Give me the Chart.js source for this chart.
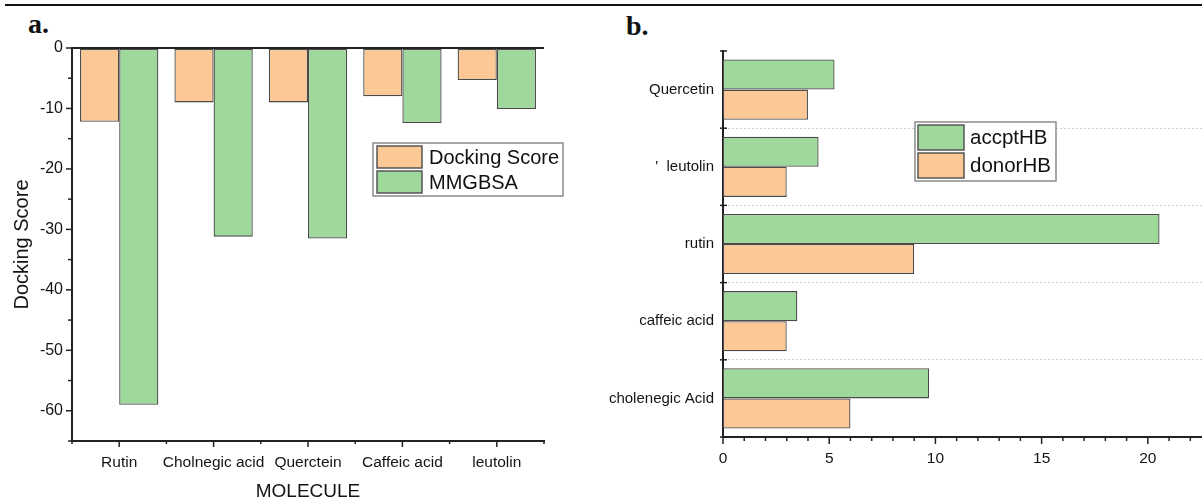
<!DOCTYPE html>
<html>
<head>
<meta charset="utf-8">
<title>Docking score and hydrogen bonds</title>
<script src="https://cdn.jsdelivr.net/npm/chart.js@4.4.1/dist/chart.umd.min.js"></script>
<style>
  html, body { margin: 0; padding: 0; background: #fff; }
  #page { position: relative; width: 1202px; height: 499px; overflow: hidden; background: #fff; }
  .rule { position: absolute; left: 5px; right: 0; top: 4px; height: 2px; background: #111; }
  .panel { position: absolute; font-family: "Liberation Serif", "Times New Roman", serif; font-weight: bold;
           font-size: 28px; line-height: 28px; color: #111; }
  #wrapA { position: absolute; left: 0; top: 0; width: 600px; height: 499px; }
  #wrapB { position: absolute; left: 600px; top: 0; width: 602px; height: 499px; }
  canvas { display: block; }
</style>
</head>
<body>
<div id="page">
  <div class="rule"></div>
  <div class="panel" style="left:28px; top:10px;">a.</div>
  <div class="panel" style="left:626px; top:12px;">b.</div>
  <div id="wrapA"><canvas id="chartA" width="600" height="499"></canvas></div>
  <div id="wrapB"><canvas id="chartB" width="602" height="499"></canvas></div>
</div>
<script>
// Panel a: docking score and MMGBSA per molecule
const moleculesA = ['Rutin', 'Cholnegic acid', 'Querctein', 'Caffeic acid', 'leutolin'];
const dockingScore = [-12.2, -9.0, -9.0, -8.0, -5.3];
const mmgbsa = [-59.0, -31.2, -31.5, -12.4, -10.1];
const scoreTicks = [0, -10, -20, -30, -40, -50, -60];

// Panel b: acceptor / donor hydrogen bonds per molecule
const moleculesB = ['Quercetin', "'  leutolin", 'rutin', 'caffeic acid', 'cholenegic Acid'];
const accptHB = [5.25, 4.5, 20.55, 3.5, 9.7];
const donorHB = [4, 3, 9, 3, 6];
const hbTicks = [0, 5, 10, 15, 20];

const ORANGE = 'rgb(252, 201, 150)';
const GREEN = 'rgb(158, 216, 155)';
const EDGE = '#4a4a4a';
const AXIS = '#222';
const TEXT = '#141414';
const CLEAR = 'rgba(0,0,0,0)';

Chart.defaults.font.family = '"Liberation Sans", Arial, sans-serif';
Chart.defaults.color = TEXT;

// Framed legend drawn inside the plot area
function boxLegend(id, box) {
  return {
    id,
    afterDatasetsDraw(chart) {
      const ctx = chart.ctx;
      ctx.save();
      ctx.fillStyle = '#fff';
      ctx.fillRect(box.x, box.y, box.w, box.h);
      ctx.strokeStyle = '#8a8a8a';
      ctx.lineWidth = 1.5;
      ctx.strokeRect(box.x, box.y, box.w, box.h);
      chart.data.datasets.forEach((ds, i) => {
        const sx = box.x + box.padX;
        const sy = box.y + box.padY + i * box.row;
        ctx.fillStyle = ds.backgroundColor;
        ctx.fillRect(sx, sy, box.sw, box.sh);
        ctx.strokeStyle = '#555';
        ctx.lineWidth = 1.5;
        ctx.strokeRect(sx, sy, box.sw, box.sh);
        ctx.fillStyle = '#111';
        ctx.font = box.font;
        ctx.textBaseline = 'middle';
        ctx.textAlign = 'left';
        ctx.fillText(ds.label, sx + box.sw + box.gap, sy + box.sh / 2 + 1);
      });
      ctx.restore();
    }
  };
}

function segment(ctx, x1, y1, x2, y2) {
  ctx.beginPath();
  ctx.moveTo(x1, y1);
  ctx.lineTo(x2, y2);
  ctx.stroke();
}

// Major / minor tick marks for panel a
const marksA = {
  id: 'marksA',
  afterDraw(chart) {
    const { ctx, chartArea: a, scales: { x, y } } = chart;
    ctx.save();
    ctx.strokeStyle = AXIS;
    ctx.lineWidth = 1.5;
    for (let v = y.min; v <= y.max; v += 5) {
      const py = y.getPixelForValue(v);
      segment(ctx, a.left - (v % 10 === 0 ? 6 : 4), py, a.left, py);
    }
    moleculesA.forEach((_, i) => {
      const px = x.getPixelForValue(i);
      segment(ctx, px, a.bottom, px, a.bottom + 6);
    });
    for (let i = 0; i <= moleculesA.length; i++) {
      const px = x.getPixelForValue(i - 0.5);
      segment(ctx, px, a.bottom, px, a.bottom + 3);
    }
    ctx.restore();
  }
};

// Tick marks for panel b
const marksB = {
  id: 'marksB',
  afterDraw(chart) {
    const { ctx, chartArea: a, scales: { x, y } } = chart;
    ctx.save();
    ctx.strokeStyle = AXIS;
    ctx.lineWidth = 1.5;
    for (let i = 0; i <= moleculesB.length; i++) {
      const py = y.getPixelForValue(i - 0.5);
      segment(ctx, a.left - 3, py, a.left + 4, py);
    }
    for (let v = 0; v <= x.max; v += 1) {
      const px = x.getPixelForValue(v);
      segment(ctx, px, a.bottom, px, a.bottom + (v % 5 === 0 ? 7 : 4));
    }
    ctx.restore();
  }
};

const barStyle = { barPercentage: 1, borderWidth: 1.3, borderColor: EDGE, borderSkipped: false };

new Chart(document.getElementById('chartA'), {
  type: 'bar',
  data: {
    labels: moleculesA,
    datasets: [
      { label: 'Docking Score', data: dockingScore, backgroundColor: ORANGE },
      { label: 'MMGBSA', data: mmgbsa, backgroundColor: GREEN }
    ]
  },
  options: {
    responsive: false,
    animation: false,
    layout: { padding: { left: 0, right: 56, top: 48, bottom: 0 } },
    datasets: { bar: Object.assign({ categoryPercentage: 0.83 }, barStyle) },
    plugins: { legend: { display: false }, tooltip: { enabled: false } },
    scales: {
      x: {
        grid: { display: false, drawTicks: false },
        border: { display: true, color: AXIS, width: 2 },
        ticks: { padding: 12, font: { size: 15.5 }, color: TEXT, maxRotation: 0, autoSkip: false },
        title: { display: true, text: 'MOLECULE', font: { size: 19, lineHeight: 0.8 }, padding: 0, color: TEXT },
        afterFit(s) { s.height = 58; }
      },
      y: {
        min: -65,
        max: 0,
        afterBuildTicks(s) { s.ticks = scoreTicks.map(v => ({ value: v })); },
        grid: {
          drawTicks: false,
          lineWidth: 2,
          color: c => (c.tick && c.tick.value === 0 ? AXIS : CLEAR)
        },
        border: { display: true, color: AXIS, width: 2 },
        ticks: { padding: 9, font: { size: 16 }, color: TEXT },
        title: { display: true, text: 'Docking Score', font: { size: 20 }, padding: { top: 10, bottom: 0 }, color: TEXT },
        afterFit(s) { s.width = 72; }
      }
    }
  },
  plugins: [
    marksA,
    boxLegend('legendA', { x: 373, y: 143, w: 190, h: 53, padX: 4, padY: 3, sw: 45, sh: 22, row: 25, gap: 7,
                           font: '20px "Liberation Sans", Arial, sans-serif' })
  ]
});

new Chart(document.getElementById('chartB'), {
  type: 'bar',
  data: {
    labels: moleculesB,
    datasets: [
      { label: 'accptHB', data: accptHB, backgroundColor: GREEN },
      { label: 'donorHB', data: donorHB, backgroundColor: ORANGE }
    ]
  },
  options: {
    indexAxis: 'y',
    responsive: false,
    animation: false,
    layout: { padding: { left: 0, right: 0, top: 51, bottom: 0 } },
    datasets: { bar: Object.assign({ categoryPercentage: 0.78 }, barStyle) },
    plugins: { legend: { display: false }, tooltip: { enabled: false } },
    scales: {
      x: {
        min: 0,
        max: 22.55,
        afterBuildTicks(s) { s.ticks = hbTicks.map(v => ({ value: v })); },
        grid: { display: false, drawTicks: false },
        border: { display: true, color: AXIS, width: 2 },
        ticks: { padding: 12, font: { size: 15.5 }, color: TEXT },
        afterFit(s) { s.height = 62; }
      },
      y: {
        grid: {
          drawTicks: false,
          lineWidth: 1,
          color: c => (c.index > 0 && c.index < moleculesB.length ? '#cfcfcf' : CLEAR)
        },
        border: { display: true, color: AXIS, width: 2, dash: [2, 2] },
        ticks: { padding: 9, font: { size: 15 }, color: TEXT, autoSkip: false },
        afterFit(s) { s.width = 123; }
      }
    }
  },
  plugins: [
    marksB,
    boxLegend('legendB', { x: 315, y: 122, w: 141, h: 59, padX: 3, padY: 3, sw: 46, sh: 25, row: 28, gap: 6,
                           font: '20.5px "Liberation Sans", Arial, sans-serif' })
  ]
});
</script>
</body>
</html>
